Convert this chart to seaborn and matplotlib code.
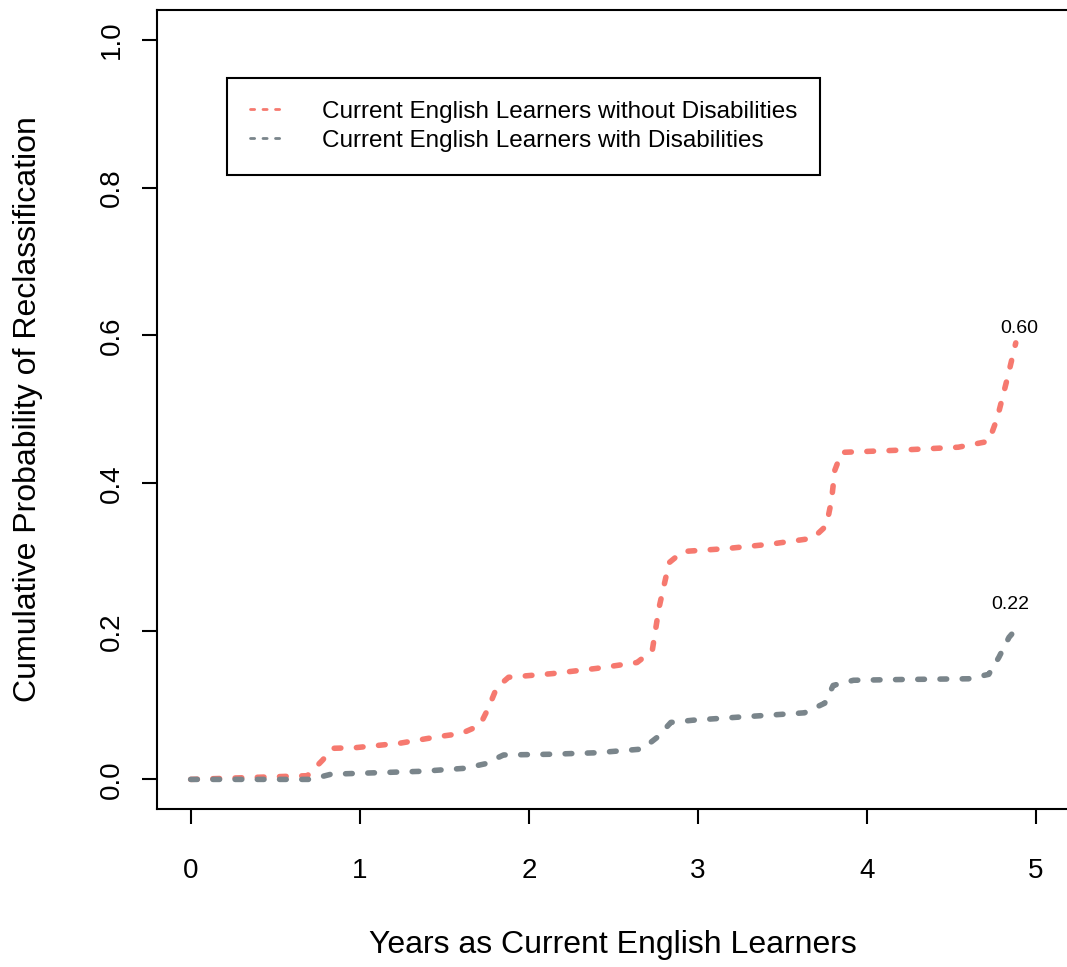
import numpy as np
import pandas as pd
import seaborn as sns
import matplotlib.pyplot as plt
from matplotlib.lines import Line2D

# values
yrs_without = [0, 0.69, 0.78, 0.84, 0.98, 1.24, 1.47, 1.60, 1.71, 1.76, 1.81, 1.88,
               2.14, 2.40, 2.64, 2.73, 2.77, 2.83, 2.91, 3.17, 3.43, 3.68, 3.76,
               3.79, 3.81, 3.85, 4.19, 4.54, 4.72, 4.77, 4.83, 4.88]
prob_without = [0, 0.005, 0.026, 0.042, 0.043, 0.049, 0.058, 0.062, 0.073, 0.096, 0.124, 0.138,
                0.143, 0.150, 0.158, 0.174, 0.232, 0.293, 0.308, 0.312, 0.318, 0.326, 0.343,
                0.377, 0.418, 0.442, 0.445, 0.449, 0.457, 0.488, 0.542, 0.59]

yrs_with = [0, 0.71, 0.83, 1.10, 1.37, 1.62, 1.74, 1.85, 2.13, 2.40, 2.67, 2.76, 2.84,
            2.97, 3.23, 3.50, 3.63, 3.75, 3.80, 3.92, 4.20, 4.60, 4.72, 4.78, 4.84, 4.87]
prob_with = [0, 0.0, 0.007, 0.009, 0.011, 0.015, 0.021, 0.033, 0.034, 0.036, 0.041, 0.057, 0.077,
             0.080, 0.084, 0.088, 0.090, 0.103, 0.127, 0.134, 0.135, 0.136, 0.142, 0.165, 0.192, 0.20]

group_names = ['Current English Learners without Disabilities',
               'Current English Learners with Disabilities']
group_colors = ['#F6796F', '#7A858B']
end_labels = ['0.60', '0.22']
end_label_pos = [(4.90, 0.61), (4.85, 0.236)]

df = pd.concat([
    pd.DataFrame({'years': yrs_without, 'prob': prob_without, 'group': group_names[0]}),
    pd.DataFrame({'years': yrs_with, 'prob': prob_with, 'group': group_names[1]}),
])

sns.set_theme(style='white')
plt.rcParams['font.family'] = ['Liberation Sans', 'DejaVu Sans']

fig = plt.figure(figsize=(10.67, 9.67), dpi=100)
ax = fig.add_axes([0.147, 0.1634, 0.8557, 0.8263])

# orange first so the gray line sits on top where they overlap
for name, color in zip(group_names, group_colors):
    sns.lineplot(data=df[df['group'] == name], x='years', y='prob', color=color,
                 linewidth=4, linestyle=(0, (1.2, 2.8)), dash_capstyle='round',
                 sort=False, ax=ax, legend=False)

for txt, (x, y) in zip(end_labels, end_label_pos):
    ax.text(x, y, txt, fontsize=14, ha='center', va='center', color='black')

ax.set_xlim(-0.2, 5.2)
ax.set_ylim(-0.04, 1.04)
ax.set_xticks([0, 1, 2, 3, 4, 5])
ax.set_yticks([0.0, 0.2, 0.4, 0.6, 0.8, 1.0])
ax.set_yticklabels(['0.0', '0.2', '0.4', '0.6', '0.8', '1.0'])
ax.tick_params(axis='both', direction='out', length=11, width=1.5, color='black',
               labelsize=20, labelcolor='black', bottom=True, left=True)
ax.tick_params(axis='x', pad=24)
ax.tick_params(axis='y', pad=12)
for lab in ax.get_yticklabels():
    lab.set_rotation(90)
    lab.set_va('center')

for sp in ax.spines.values():
    sp.set_color('black')
    sp.set_linewidth(1.5)

ax.set_xlabel('Years as Current English Learners', fontsize=23, color='black')
ax.set_ylabel('Cumulative Probability of Reclassification', fontsize=23, color='black')
ax.xaxis.set_label_coords(0.5, -0.17)
ax.xaxis.label.set_va('center')
ax.yaxis.set_label_coords(-0.141, 0.5)
ax.yaxis.label.set_va('center')

handles = [Line2D([0], [0], color=c, lw=2, linestyle=(0, (1.5, 3)), dash_capstyle='round')
           for c in group_colors]
leg = ax.legend(handles, group_names, loc='upper left', bbox_to_anchor=(0.0767, 0.915),
                fontsize=17.5, frameon=True, fancybox=False, borderpad=0.95,
                handlelength=1.45, handletextpad=1.5, labelspacing=0.28, borderaxespad=0)
leg.get_frame().set_edgecolor('black')
leg.get_frame().set_linewidth(1.5)
leg.get_frame().set_alpha(1)
for t in leg.get_texts():
    t.set_color('black')

fig.savefig('out.png', dpi=100)
